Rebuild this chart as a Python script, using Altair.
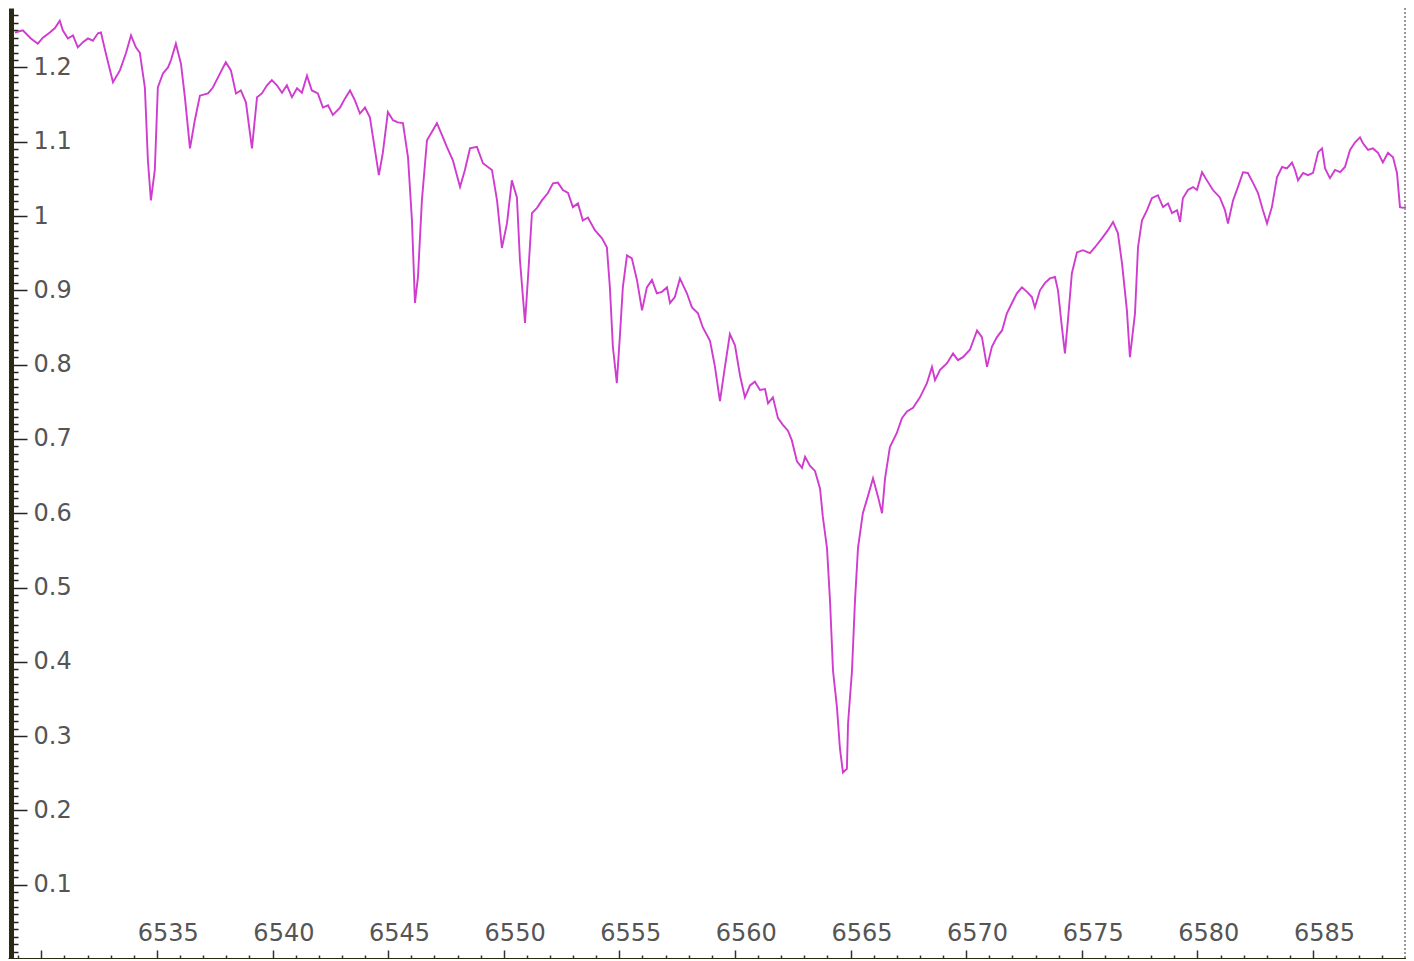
import altair as alt
import pandas as pd

wavelength = [
    6528.86, 6529.20, 6529.55, 6529.85, 6530.07, 6530.37, 6530.59, 6530.80, 6530.93, 6531.15,
    6531.37, 6531.58, 6531.80, 6532.02, 6532.23, 6532.45, 6532.58, 6532.79, 6533.10, 6533.40,
    6533.66, 6533.88, 6534.09, 6534.26, 6534.48, 6534.61, 6534.74, 6534.91, 6535.04, 6535.26,
    6535.48, 6535.61, 6535.82, 6536.04, 6536.21, 6536.43, 6536.64, 6536.86, 6537.21, 6537.42,
    6537.73, 6537.98, 6538.20, 6538.42, 6538.63, 6538.85,
    6539.11, 6539.33, 6539.54, 6539.76, 6539.97, 6540.19, 6540.41, 6540.62, 6540.84, 6541.06,
    6541.27, 6541.49, 6541.70, 6541.96, 6542.18, 6542.40, 6542.61, 6542.92, 6543.13, 6543.35,
    6543.56, 6543.78, 6544.00, 6544.21, 6544.43, 6544.60, 6544.77, 6544.99, 6545.21, 6545.42,
    6545.64, 6545.86, 6546.03, 6546.16, 6546.29, 6546.46, 6546.68, 6546.89, 6547.11, 6547.33,
    6547.54, 6547.80, 6548.11, 6548.32, 6548.54, 6548.84,
    6549.10, 6549.49, 6549.71, 6549.92, 6550.14, 6550.35, 6550.57, 6550.70, 6550.92, 6551.05,
    6551.22, 6551.44, 6551.65, 6551.91, 6552.13, 6552.34, 6552.56, 6552.78, 6552.99, 6553.21,
    6553.42, 6553.64, 6553.94, 6554.25, 6554.46, 6554.59, 6554.72, 6554.89, 6555.03, 6555.15,
    6555.33, 6555.54, 6555.76, 6555.98, 6556.19, 6556.41, 6556.62, 6556.84, 6557.06, 6557.19,
    6557.40, 6557.62, 6557.92, 6558.14, 6558.40, 6558.61, 6558.92, 6559.13, 6559.35, 6559.57,
    6559.78, 6560.00, 6560.22, 6560.43, 6560.65, 6560.86, 6561.08, 6561.30, 6561.43, 6561.64,
    6561.86, 6562.07, 6562.29, 6562.46, 6562.68, 6562.90, 6563.03, 6563.24, 6563.46, 6563.68,
    6563.80, 6563.98, 6564.11, 6564.24, 6564.41, 6564.54, 6564.67, 6564.84, 6564.89, 6565.06,
    6565.19, 6565.32, 6565.53, 6565.75, 6565.97, 6566.18, 6566.36, 6566.49, 6566.70, 6567.00,
    6567.22, 6567.44, 6567.70, 6568.00, 6568.30, 6568.52, 6568.65, 6568.87, 6569.17, 6569.43,
    6569.64, 6569.86, 6570.16, 6570.47, 6570.68, 6570.90, 6571.11, 6571.33, 6571.55, 6571.76,
    6571.98, 6572.19, 6572.41, 6572.63, 6572.84, 6572.97, 6573.19, 6573.41, 6573.62, 6573.84,
    6573.97, 6574.14, 6574.27, 6574.40, 6574.57, 6574.79, 6575.05, 6575.35, 6575.57, 6575.87,
    6576.13, 6576.35, 6576.56, 6576.74, 6576.95, 6577.08, 6577.30, 6577.43, 6577.60, 6577.82,
    6578.03, 6578.29, 6578.51, 6578.73, 6578.90, 6579.12, 6579.25, 6579.37, 6579.59, 6579.81,
    6579.98, 6580.20, 6580.41, 6580.67, 6580.97, 6581.19, 6581.32, 6581.54, 6581.75, 6581.97,
    6582.18, 6582.40, 6582.62, 6582.83, 6583.01, 6583.22, 6583.44, 6583.66, 6583.87, 6584.09,
    6584.22, 6584.35, 6584.57, 6584.78, 6585.00, 6585.22, 6585.39, 6585.52, 6585.73, 6585.95,
    6586.17, 6586.38, 6586.60, 6586.81, 6587.03, 6587.16, 6587.38, 6587.59, 6587.81, 6588.02,
    6588.24, 6588.46, 6588.63, 6588.76, 6588.89, 6589.02,
]

flux = [
    1.247, 1.250, 1.239, 1.232, 1.240, 1.247, 1.253, 1.263, 1.250, 1.239,
    1.243, 1.227, 1.234, 1.239, 1.236, 1.246, 1.247, 1.219, 1.180, 1.196,
    1.219, 1.243, 1.227, 1.220, 1.173, 1.075, 1.021, 1.062, 1.173, 1.192,
    1.200, 1.210, 1.232, 1.205, 1.160, 1.091, 1.129, 1.162, 1.165, 1.173,
    1.192, 1.207, 1.196, 1.165, 1.169, 1.153,
    1.091, 1.160, 1.165, 1.176, 1.183, 1.176, 1.166, 1.176, 1.160, 1.172,
    1.166, 1.189, 1.169, 1.165, 1.146, 1.149, 1.136, 1.146, 1.158, 1.169,
    1.156, 1.138, 1.146, 1.133, 1.089, 1.055, 1.085, 1.140, 1.129, 1.126,
    1.125, 1.079, 0.994, 0.883, 0.918, 1.021, 1.102, 1.113, 1.125, 1.109,
    1.093, 1.075, 1.039, 1.062, 1.091, 1.093,
    1.071, 1.062, 1.021, 0.957, 0.990, 1.048, 1.025, 0.941, 0.856, 0.918,
    1.004, 1.011, 1.021, 1.031, 1.044, 1.045, 1.035, 1.031, 1.012, 1.017,
    0.994, 0.998, 0.981, 0.970, 0.958, 0.904, 0.824, 0.775, 0.842, 0.904,
    0.947, 0.943, 0.914, 0.873, 0.904, 0.914, 0.896, 0.898, 0.904, 0.883,
    0.891, 0.916, 0.896, 0.877, 0.869, 0.850, 0.832, 0.798, 0.751, 0.798,
    0.841, 0.826, 0.785, 0.756, 0.772, 0.777, 0.766, 0.767, 0.748, 0.756,
    0.728, 0.719, 0.711, 0.698, 0.670, 0.661, 0.676, 0.664, 0.657, 0.633,
    0.595, 0.553, 0.482, 0.388, 0.339, 0.283, 0.251, 0.256, 0.317, 0.388,
    0.482, 0.553, 0.600, 0.623, 0.647, 0.623, 0.600, 0.647, 0.689, 0.708,
    0.728, 0.737, 0.742, 0.756, 0.775, 0.797, 0.779, 0.793, 0.802, 0.815,
    0.806, 0.810, 0.820, 0.846, 0.837, 0.797, 0.824, 0.837, 0.846, 0.869,
    0.883, 0.896, 0.904, 0.898, 0.891, 0.877, 0.900, 0.910, 0.916, 0.918,
    0.900, 0.850, 0.815, 0.860, 0.923, 0.951, 0.954, 0.950, 0.958, 0.970,
    0.981, 0.992, 0.977, 0.936, 0.873, 0.810, 0.869, 0.958, 0.994, 1.008,
    1.024, 1.028, 1.012, 1.017, 1.004, 1.008, 0.992, 1.024, 1.035, 1.039,
    1.035, 1.059, 1.048, 1.035, 1.025, 1.008, 0.990, 1.021, 1.039, 1.059,
    1.058, 1.045, 1.031, 1.008, 0.990, 1.012, 1.052, 1.066, 1.064, 1.072,
    1.062, 1.048, 1.058, 1.055, 1.058, 1.086, 1.091, 1.064, 1.051, 1.062,
    1.059, 1.066, 1.089, 1.099, 1.106, 1.098, 1.089, 1.091, 1.085, 1.072,
    1.085, 1.079, 1.058, 1.012, 1.011, 1.012,
]

x_domain = [6528.56, 6589.02]
y_domain = [0.0, 1.28]
x_ticks = list(range(6529, 6589))          # 1 Å minor ticks (major every 5 Å)
x_labels = [6535, 6540, 6545, 6550, 6555, 6560, 6565, 6570, 6575, 6580, 6585]
y_ticks = [round(i * 0.01, 2) for i in range(1, 128)]  # 0.01 minor ticks, labels every 0.1

W, H = 1398, 951
LABEL_SHIFT = 0.47   # labels sit a little right of their ticks in the original

df = pd.DataFrame({"wavelength": wavelength, "flux": flux})
x_scale = alt.Scale(domain=x_domain, nice=False, zero=False)
y_scale = alt.Scale(domain=y_domain, nice=False, zero=False)

major_x = "datum.value % 5 == 0"
major_y = "abs(datum.value * 10 - round(datum.value * 10)) < 0.001"

line = alt.Chart(df).mark_line(color="#cf3ccf", strokeWidth=1.9, clip=True).encode(
    x=alt.X(
        "wavelength:Q", scale=x_scale,
        axis=alt.Axis(
            orient="top", offset=-H, title=None, grid=False,
            values=x_ticks, labels=False,
            tickSize={"condition": {"test": major_x, "value": 9}, "value": 4},
            tickColor="#333333", tickWidth=1.5,
            domainColor="#2a2a14", domainWidth=3,
        ),
    ),
    y=alt.Y(
        "flux:Q", scale=y_scale,
        axis=alt.Axis(
            orient="right", offset=-(W - 3), title=None, grid=False,
            values=y_ticks, format=".1~f",
            labelExpr=f"{major_y} ? datum.label : ''",
            labelOverlap=False, labelBound=False, labelFlush=False,
            labelFont="DejaVu Sans", labelFontSize=24, labelColor="#555555",
            labelAlign="left", labelBaseline="middle", labelPadding=6,
            tickSize={"condition": {"test": major_y, "value": 16}, "value": 7},
            tickColor="#222222", tickWidth=1.5,
            domainColor="#2a2a14", domainWidth=5,
        ),
    ),
)

# x tick labels (text only), drawn by a second axis on the same scale
labels = alt.Chart(df).mark_line(opacity=0).encode(
    x=alt.X(
        "wavelength:Q", scale=x_scale,
        axis=alt.Axis(
            orient="top", offset=-H, title=None, grid=False,
            values=[v + LABEL_SHIFT for v in x_labels],
            labelExpr="format(round(datum.value), 'd')",
            ticks=False, domain=False,
            labelOverlap=False, labelBound=False, labelFlush=False,
            labelFont="DejaVu Sans", labelFontSize=24, labelColor="#555555",
            labelBaseline="alphabetic", labelPadding=19,
        ),
    ),
    y=alt.Y("flux:Q", scale=y_scale, axis=None),
)

# dotted right-hand frame edge
border = alt.Chart(df).mark_rule(
    color="#999999", strokeWidth=2, strokeDash=[2, 2]
).encode(x=alt.value(W - 1), y=alt.value(0), y2=alt.value(H))

chart = alt.layer(line, labels, border).resolve_axis(
    x="independent", y="independent"
).properties(
    width=W, height=H, padding=0, autosize=alt.AutoSizeParams(type="none"),
    background="white",
).configure_view(stroke=None)

chart.save("out.html", embed_options={"renderer": "svg", "actions": False})
